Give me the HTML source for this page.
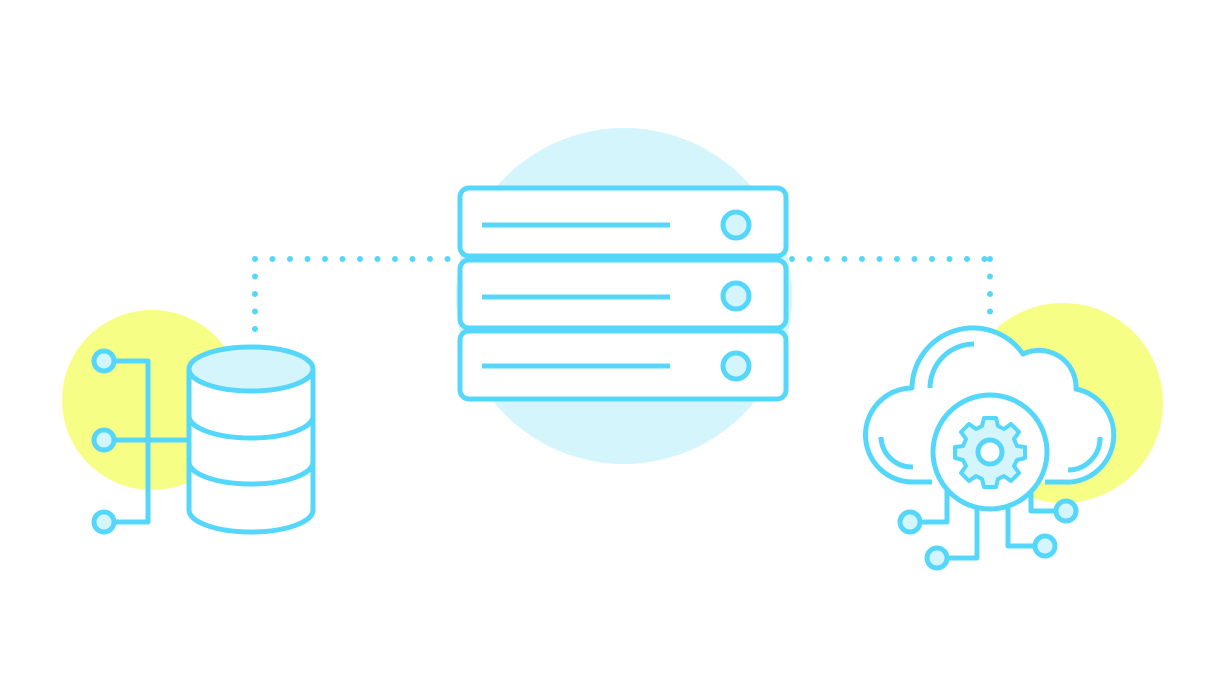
<!DOCTYPE html>
<html><head><style>html,body{margin:0;padding:0;background:#fff;}svg{display:block}</style></head>
<body>
<svg width="1230" height="685" viewBox="0 0 1230 685" xmlns="http://www.w3.org/2000/svg">
<rect width="1230" height="685" fill="#fff"/>
<circle cx="152" cy="400" r="90" fill="#f7fe86"/>
<circle cx="1063" cy="403" r="100" fill="#f7fe86"/>
<circle cx="624" cy="296" r="168" fill="#d5f5fd"/>
<g stroke="#55d6fb" stroke-width="5" stroke-linecap="round" fill="none">
<path d="M255 259H455M792 259H990M255 259V336M990 259V318" stroke-dasharray="0 17.5" stroke-width="6"/>
</g>
<g stroke="#55d6fb" stroke-width="5" fill="none" stroke-linejoin="round">
<!-- left connectors -->
<path d="M114 361H148V522H114M114 440H188"/>
<circle cx="104" cy="361" r="10" fill="#d5f5fd"/>
<circle cx="104" cy="440" r="10" fill="#d5f5fd"/>
<circle cx="104" cy="522" r="10" fill="#d5f5fd"/>
<!-- database -->
<path d="M189 369V510A62 22 0 0 0 313 510V369" fill="#fff"/>
<path d="M189 416A62 22 0 0 0 313 416M189 462A62 22 0 0 0 313 462"/>
<ellipse cx="251" cy="369" rx="62" ry="22" fill="#d5f5fd"/>
<!-- server -->
<rect x="460" y="188" width="326" height="68" rx="9" fill="#fff"/>
<rect x="460" y="260" width="326" height="68" rx="9" fill="#fff"/>
<rect x="460" y="331" width="326" height="68" rx="9" fill="#fff"/>
<path d="M482 225H670M482 297H670M482 366H670"/>
<circle cx="736" cy="225" r="13" fill="#d5f5fd"/>
<circle cx="736" cy="296" r="13" fill="#d5f5fd"/>
<circle cx="736" cy="366" r="13" fill="#d5f5fd"/>
<!-- cloud -->
<path d="M932 482H913A47 47 0 0 1 912 388A61 61 0 0 1 1023 354A37 37 0 0 1 1076 389A47 47 0 0 1 1064 482H1045" fill="#fff"/>
<path d="M974 344A44 44 0 0 0 930 388M881 437A31 31 0 0 0 913 467M1100 437A32 32 0 0 1 1068 470"/>
<path d="M947 490V522H920M977 508V558H947M1008 508V546H1035M1031 488V511H1056"/>
<circle cx="910" cy="522" r="10" fill="#d5f5fd"/>
<circle cx="937" cy="558" r="10" fill="#d5f5fd"/>
<circle cx="1045" cy="546" r="10" fill="#d5f5fd"/>
<circle cx="1066" cy="511" r="10" fill="#d5f5fd"/>
<circle cx="990" cy="452" r="57" fill="#fff"/>
<path fill="#d5f5fd" stroke-width="4" d="M984 418H996L998 426L1004 429L1011 424L1019 432L1014 439L1017 446L1025 447V458L1017 460L1014 466L1019 473L1011 481L1004 476L998 479L996 487H984L982 479L976 476L969 481L961 473L966 466L963 460L955 458V447L963 446L966 439L961 432L969 424L976 429L982 426Z"/>
<circle cx="990" cy="452" r="12" fill="#fff" stroke-width="5"/>
</g>
</svg>
</body></html>
